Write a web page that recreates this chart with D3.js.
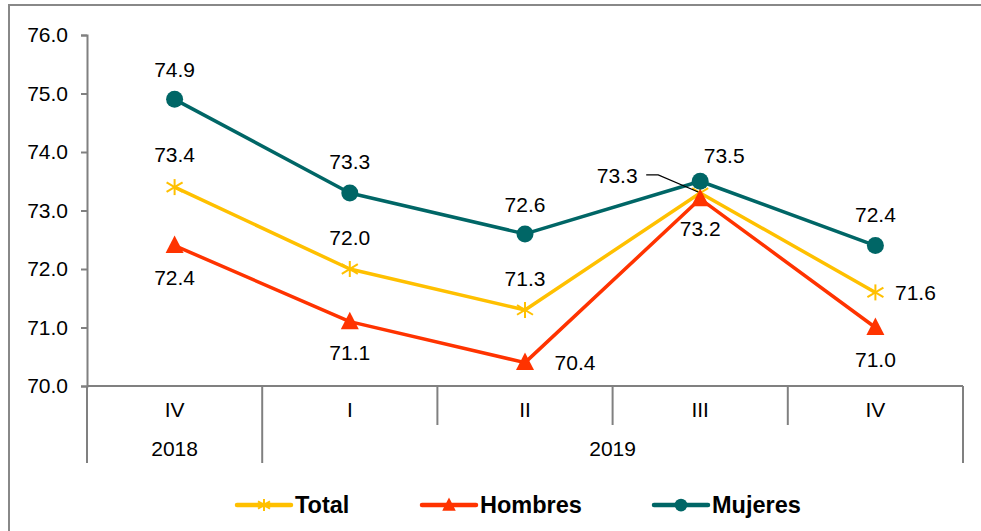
<!DOCTYPE html>
<html>
<head>
<meta charset="utf-8">
<script src="https://cdn.jsdelivr.net/npm/d3@7"></script>
<style>
  body { margin: 0; background: #fff; }
  svg { font-family: "Liberation Sans", Arial, sans-serif; }
</style>
</head>
<body>
<div id="chart"></div>
<script>
// datos
const quarters = ["IV", "I", "II", "III", "IV"];
const years = [{ label: "2018", from: 0, to: 1 }, { label: "2019", from: 1, to: 5 }];
const total = [73.4, 72.0, 71.3, 73.3, 71.6];
const hombres = [72.4, 71.1, 70.4, 73.2, 71.0];
const mujeres = [74.9, 73.3, 72.6, 73.5, 72.4];
const yTicks = [70, 71, 72, 73, 74, 75, 76];

// posición de etiquetas: [dx, dy]
const totalLabelPos = [[0, -32], [0, -31], [0, -31], [-83, -17], [40, 0]];
const hombresLabelPos = [[0, 32], [0, 31], [50, 0], [0, 30], [0, 32]];
const mujeresLabelPos = [[0, -30], [0, -31], [0, -29], [24, -26], [0, -31]];

const width = 981, height = 531;
const margin = { top: 35, right: 18, bottom: 145, left: 87 };

const svg = d3.select("#chart").append("svg")
  .attr("width", width)
  .attr("height", height);

// marco
svg.append("rect")
  .attr("x", 9).attr("y", 5)
  .attr("width", 990).attr("height", 560)
  .attr("fill", "none")
  .attr("stroke", "#888")
  .attr("stroke-width", 2);

const x = d3.scaleBand()
  .domain(d3.range(quarters.length))
  .range([margin.left, width - margin.right]);

const y = d3.scaleLinear()
  .domain([70, 76])
  .range([height - margin.bottom, margin.top]);

const axisColor = "#808080";
const y0 = y(70);
const fontFam = "Liberation Sans, Arial, sans-serif";

// eje Y
const yAxis = svg.append("g")
  .attr("transform", `translate(${margin.left},0)`)
  .call(d3.axisLeft(y).tickValues(yTicks).tickFormat(d3.format(".1f")).tickSize(6).tickPadding(13));
yAxis.attr("font-size", null).attr("font-family", null);
yAxis.select(".domain").attr("stroke", axisColor).attr("stroke-width", 2);
yAxis.selectAll(".tick line").attr("stroke", axisColor).attr("stroke-width", 2);
yAxis.selectAll(".tick text").attr("font-size", 21).attr("fill", "#000").attr("font-family", fontFam);

// eje X
const xg = svg.append("g");
xg.append("line")
  .attr("x1", margin.left).attr("x2", width - margin.right)
  .attr("y1", y0).attr("y2", y0)
  .attr("stroke", axisColor).attr("stroke-width", 2);

// separadores de categoría
const bounds = d3.range(quarters.length + 1).map(i => i < quarters.length ? x(i) : x(i - 1) + x.bandwidth());
const yearBounds = new Set(years.flatMap(d => [d.from, d.to]));
bounds.forEach((bx, i) => {
  xg.append("line")
    .attr("x1", bx).attr("x2", bx)
    .attr("y1", y0).attr("y2", yearBounds.has(i) ? y0 + 77 : y0 + 39)
    .attr("stroke", axisColor).attr("stroke-width", 2);
});

xg.selectAll(".q")
  .data(quarters)
  .join("text")
  .attr("x", (d, i) => x(i) + x.bandwidth() / 2)
  .attr("y", y0 + 24)
  .attr("dy", "0.35em")
  .attr("text-anchor", "middle")
  .attr("font-size", 21)
  .text(d => d);

xg.selectAll(".yr")
  .data(years)
  .join("text")
  .attr("x", d => (x(d.from) + x(d.to - 1) + x.bandwidth()) / 2)
  .attr("y", y0 + 63)
  .attr("dy", "0.35em")
  .attr("text-anchor", "middle")
  .attr("font-size", 21)
  .text(d => d.label);

const line = d3.line()
  .x((d, i) => x(i) + x.bandwidth() / 2)
  .y(d => y(d));

const series = [
  { name: "Total", values: total, color: "#FFC000", marker: "star", labels: totalLabelPos },
  { name: "Hombres", values: hombres, color: "#FF3300", marker: "tri", labels: hombresLabelPos },
  { name: "Mujeres", values: mujeres, color: "#006666", marker: "circle", labels: mujeresLabelPos }
];

function drawMarker(g, type, color, cx, cy, k = 1) {
  if (type === "circle") {
    g.append("circle").attr("cx", cx).attr("cy", cy).attr("r", 8.5 * k).attr("fill", color);
  } else if (type === "tri") {
    g.append("path")
      .attr("d", `M${cx},${cy - 10 * k}L${cx + 9 * k},${cy + 7.5 * k}L${cx - 9 * k},${cy + 7.5 * k}Z`)
      .attr("fill", color);
  } else {
    const r = 8 * k;
    const p = [[0, -r, 0, r], [-r, -r * 0.6, r, r * 0.6], [-r, r * 0.6, r, -r * 0.6]];
    p.forEach(s => g.append("line")
      .attr("x1", cx + s[0]).attr("y1", cy + s[1])
      .attr("x2", cx + s[2]).attr("y2", cy + s[3])
      .attr("stroke", color).attr("stroke-width", 2));
  }
}

// líneas y marcadores
series.forEach(s => {
  const g = svg.append("g");
  g.append("path")
    .datum(s.values)
    .attr("d", line)
    .attr("fill", "none")
    .attr("stroke", s.color)
    .attr("stroke-width", 3.5)
    .attr("stroke-linejoin", "round");
  s.values.forEach((v, i) => drawMarker(g, s.marker, s.color, x(i) + x.bandwidth() / 2, y(v)));
});

// etiquetas de datos
series.forEach(s => {
  svg.append("g")
    .selectAll("text")
    .data(s.values)
    .join("text")
    .attr("x", (d, i) => x(i) + x.bandwidth() / 2 + s.labels[i][0])
    .attr("y", (d, i) => y(d) + s.labels[i][1])
    .attr("dy", "0.35em")
    .attr("text-anchor", "middle")
    .attr("font-size", 21)
    .text(d => d.toFixed(1));
});

// línea guía de 73.3
const gx = x(3) + x.bandwidth() / 2, gy = y(total[3]);
svg.append("path")
  .attr("d", `M${gx - 54},${gy - 18}L${gx - 42},${gy - 18}L${gx - 2},${gy - 1}`)
  .attr("fill", "none")
  .attr("stroke", "#000")
  .attr("stroke-width", 1.2);

// leyenda
const legendY = 505;
const legendX = [237, 422, 654];
series.forEach((s, i) => {
  const lg = svg.append("g");
  lg.append("line")
    .attr("x1", legendX[i]).attr("x2", legendX[i] + 54)
    .attr("y1", legendY).attr("y2", legendY)
    .attr("stroke", s.color).attr("stroke-width", 4.5)
    .attr("stroke-linecap", "round");
  drawMarker(lg, s.marker, s.color, legendX[i] + 27, legendY, 0.75);
  lg.append("text")
    .attr("x", legendX[i] + 58)
    .attr("y", legendY)
    .attr("dy", "0.35em")
    .attr("font-size", 23.5)
    .attr("font-weight", "bold")
    .text(s.name);
});
</script>
</body>
</html>
